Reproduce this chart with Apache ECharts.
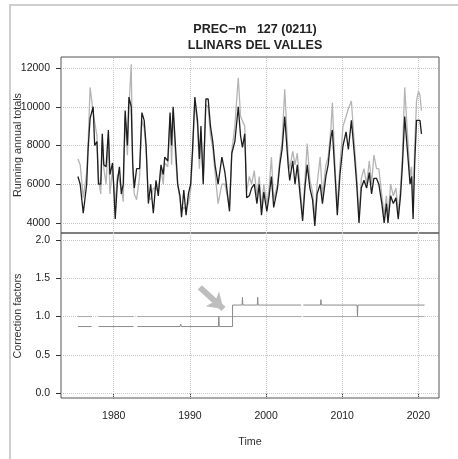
<!DOCTYPE html>
<html>
<head>
<meta charset="utf-8">
<script src="https://cdn.jsdelivr.net/npm/echarts@6/dist/echarts.min.js"></script>
<style>
  html, body { margin: 0; padding: 0; background: #fff; }
  #chart { width: 458px; height: 459px; }
</style>
</head>
<body>
<div id="chart"></div>
<script>
// running annual totals (approx. quarterly)
const years = [
  1975.3, 1975.6, 1976.0, 1976.45, 1976.65, 1976.9, 1977.3, 1977.5, 1977.8, 1978.0,
  1978.3, 1978.5, 1978.7, 1979.0, 1979.3, 1979.5, 1979.85, 1980.2, 1980.5, 1980.75,
  1981.0, 1981.25, 1981.5, 1981.8, 1982.0, 1982.3, 1982.5, 1982.7, 1983.0, 1983.4,
  1983.7, 1984.0, 1984.25, 1984.55, 1984.85, 1985.2, 1985.55, 1985.85, 1986.2, 1986.5,
  1986.7, 1987.1, 1987.4, 1987.6, 1987.8, 1988.1, 1988.4, 1988.7, 1988.9, 1989.2,
  1989.5, 1989.8, 1990.1, 1990.35, 1990.65, 1991.0, 1991.25, 1991.45, 1991.75, 1992.1,
  1992.4, 1992.7, 1993.0, 1993.3, 1993.7, 1994.2, 1994.6, 1995.2, 1995.5, 1995.9,
  1996.35, 1996.65, 1996.9, 1997.2, 1997.45, 1997.8, 1998.1, 1998.45, 1998.8, 1999.1,
  1999.4, 1999.7, 2000.1, 2000.4, 2000.7, 2001.0, 2001.5, 2001.8, 2002.1, 2002.45,
  2002.9, 2003.1, 2003.5, 2003.8, 2004.1, 2004.45, 2004.8, 2005.1, 2005.4, 2005.75,
  2006.1, 2006.4, 2006.7, 2007.1, 2007.4, 2007.85, 2008.15, 2008.5, 2008.7, 2009.05,
  2009.35, 2009.7, 2010.1, 2010.5, 2010.8, 2011.2, 2011.6, 2011.9, 2012.2, 2012.5,
  2012.85, 2013.2, 2013.55, 2013.85, 2014.15, 2014.5, 2014.8, 2015.2, 2015.5, 2015.8,
  2016.0, 2016.35, 2016.7, 2017.05, 2017.35, 2017.65, 2017.9, 2018.2, 2018.5, 2018.9,
  2019.1, 2019.3, 2019.5, 2019.75, 2020.0, 2020.2, 2020.4
];
const blackTotals = [
  6400, 6000, 4500, 6000, 7900, 9400, 10000, 8000, 8200, 6000,
  6000, 8600, 7000, 6900, 8800, 6500, 7100, 4200, 6200, 6900,
  5500, 6000, 9800, 8000, 10500, 10000, 7000, 5800, 6800, 6800,
  9700, 9300, 8000, 5000, 6000, 4500, 6200, 5400, 7000, 6500,
  7400, 7200, 9700, 8000, 10000, 8000, 6000, 5400, 4300, 5700,
  4400, 5500, 6000, 7800, 10500, 9300, 7300, 9000, 6000, 10400,
  10400, 9000, 8200, 7000, 6000, 7400, 6600, 4600, 7600, 8200,
  10000, 8500, 7900, 8600, 5300, 5400, 5800, 6000, 5000, 6000,
  4400, 5600, 4600, 5400, 6400, 4800, 5800, 7000, 7800, 9500,
  7000, 6200, 7200, 6000, 7000, 5500, 4100, 5800, 7000, 5800,
  5200, 3850, 5500, 6000, 5000, 6400, 7000, 8400, 8800, 6500,
  4400, 6500, 8000, 8700, 7800, 9300, 7500, 6000, 4000, 5800,
  6200, 5800, 6600, 5500, 6300, 6300, 6000, 5000, 4000, 5000,
  4000, 5400, 5000, 5300, 4200, 5400, 7000, 9500, 8000, 6000,
  6400, 4200, 7000, 9300, 9400, 9300, 8600
];
const grayTotals = [
  7300, 7000, 5300, 6600, 8200, 11000, 9700, 9700, 8500, 6300,
  5500, 8300, 6800, 6000, 8400, 5500, 6800, 5000, 6500, 6600,
  5800, 5100, 9500, 7500, 10000, 12200, 6500, 5500, 5200, 6400,
  9300, 8900, 7800, 5300, 5200, 5800, 5800, 5600, 6800, 6000,
  7100, 6900, 9500, 7000, 9800, 7500, 5900, 5200, 4600, 4800,
  4700, 5000, 5700, 7500, 10300, 9000, 6800, 8700, 6200, 10100,
  10000, 8500, 7900, 6600, 5000, 6000, 6000, 4800, 7700, 9000,
  11500, 9500, 9500, 9000, 5600, 6400, 6000, 6700, 5400, 6400,
  4800, 6000, 5000, 5800, 7400, 5200, 6000, 7300, 8200, 10900,
  7400, 6800, 7700, 7000, 7600, 5900, 4400, 6200, 8100, 6200,
  5600, 4300, 6000, 7400, 5400, 7000, 7400, 8800, 10200, 6900,
  4800, 7000, 9000, 9500, 9900, 10300, 8000, 6400, 4300, 6300,
  6800, 6000, 7200, 6000, 7500, 6800, 6800, 5400, 4400, 5400,
  4300, 6000, 5400, 5800, 4500, 5800, 7500, 11000, 9000, 6400,
  6900, 4500, 7800, 10300, 10800, 10600, 9800
];

// correction factors (null = missing data)
const cfTimes = [
  1975.3, 1977.1, 1977.2, 1978.0, 1982.6, 1982.7, 1983.1, 1988.7, 1988.8, 1988.9,
  1993.75, 1993.8, 1993.85, 1995.6, 1995.6, 1996.85, 1996.9, 1996.95, 1998.85, 1998.9,
  1998.95, 2004.6, 2004.7, 2004.9, 2007.15, 2007.2, 2007.25, 2011.95, 2012.0, 2012.05,
  2020.8
];
const cfValues = [
  0.87, 0.87, null, 0.87, 0.87, null, 0.87, 0.87, 0.9, 0.87,
  0.87, 1.0, 0.87, 0.87, 1.15, 1.15, 1.25, 1.15, 1.15, 1.25,
  1.15, 1.15, null, 1.15, 1.15, 1.22, 1.15, 1.15, 1.0, 1.15,
  1.15
];
const refTimes = [1975.3, 1977.1, 1977.2, 1978.0, 1982.6, 1982.7, 1983.1, 2004.6, 2004.7, 2004.9, 2020.8];
const refValues = [1.0, 1.0, null, 1.0, 1.0, null, 1.0, 1.0, null, 1.0, 1.0];

const timeTicks = [1980, 1990, 2000, 2010, 2020];
const totalTicks = [4000, 6000, 8000, 10000, 12000];
const factorTicks = [0, 0.5, 1, 1.5, 2];

const FONT = 'Liberation Sans';
const pair = (xs, ys) => xs.map((x, i) => [x, ys[i]]);

const gridLines = (yTicks) => ({
  silent: true,
  symbol: 'none',
  z: 1,
  label: { show: false },
  lineStyle: { type: 'dotted', color: '#c8c8c8', width: 1 },
  data: timeTicks.map(v => ({ xAxis: v })).concat(yTicks.map(v => ({ yAxis: v })))
});

const xAxisBase = {
  type: 'value', min: 1973.08, max: 2022.7,
  axisLine: { show: false }, splitLine: { show: false }
};
const tickStyle = { show: true, length: 5, lineStyle: { color: '#333', width: 1 } };

const chart = echarts.init(document.getElementById('chart'));
chart.setOption({
  animation: false,
  backgroundColor: '#fff',
  title: {
    text: 'PREC\u2212m   127 (0211)\nLLINARS DEL VALLES',
    left: 250, top: 17, textAlign: 'center',
    textStyle: { fontFamily: FONT, fontSize: 12.5, fontWeight: 'bold', color: '#222', lineHeight: 15.5 }
  },
  graphic: [
    { type: 'rect', shape: { x: 10, y: 5, width: 470, height: 470 }, style: { fill: 'none', stroke: '#cfcfcf', lineWidth: 2 } },
    { type: 'text', x: 18, y: 145, rotation: Math.PI / 2,
      style: { text: 'Running annual totals', fontFamily: FONT, fontSize: 10.75, fill: '#333', align: 'center', verticalAlign: 'middle' } },
    { type: 'text', x: 18, y: 316, rotation: Math.PI / 2,
      style: { text: 'Correction factors', fontFamily: FONT, fontSize: 10.75, fill: '#333', align: 'center', verticalAlign: 'middle' } },
    { type: 'text', x: 250, y: 442,
      style: { text: 'Time', fontFamily: FONT, fontSize: 10.75, fill: '#333', align: 'center', verticalAlign: 'middle' } }
  ],
  grid: [
    { left: 61, top: 57, width: 378, height: 176, show: true, borderColor: '#555', borderWidth: 1 },
    { left: 61, top: 233, width: 378, height: 165, show: true, borderColor: '#555', borderWidth: 1 }
  ],
  xAxis: [
    Object.assign({ gridIndex: 0, axisTick: { show: false }, axisLabel: { show: false } }, xAxisBase),
    Object.assign({
      gridIndex: 1,
      axisTick: Object.assign({ customValues: timeTicks }, tickStyle),
      axisLabel: { customValues: timeTicks, fontFamily: FONT, fontSize: 10.5, color: '#222', margin: 13,
                   formatter: v => String(v) }
    }, xAxisBase)
  ],
  yAxis: [
    {
      type: 'value', gridIndex: 0, min: 3480, max: 12570,
      axisLine: { show: false }, splitLine: { show: false },
      axisTick: Object.assign({ customValues: totalTicks }, tickStyle),
      axisLabel: { customValues: totalTicks, fontFamily: FONT, fontSize: 10.5, color: '#222', margin: 11,
                   formatter: v => String(v) }
    },
    {
      type: 'value', gridIndex: 1, min: -0.06, max: 2.088,
      axisLine: { show: false }, splitLine: { show: false },
      axisTick: Object.assign({ customValues: factorTicks }, tickStyle),
      axisLabel: { customValues: factorTicks, fontFamily: FONT, fontSize: 10.5, color: '#222', margin: 11,
                   formatter: v => v.toFixed(1) }
    }
  ],
  series: [
    {
      type: 'line', xAxisIndex: 0, yAxisIndex: 0, z: 2,
      data: pair(years, grayTotals), showSymbol: false,
      lineStyle: { color: '#b4b4b4', width: 1.3 },
      markLine: gridLines(totalTicks)
    },
    {
      type: 'line', xAxisIndex: 0, yAxisIndex: 0, z: 3,
      data: pair(years, blackTotals), showSymbol: false,
      lineStyle: { color: '#1e1e1e', width: 1.3 }
    },
    {
      type: 'line', xAxisIndex: 1, yAxisIndex: 1, z: 2,
      data: pair(refTimes, refValues), showSymbol: false, connectNulls: false,
      lineStyle: { color: '#a8a8a8', width: 1 },
      markLine: gridLines(factorTicks)
    },
    {
      type: 'line', xAxisIndex: 1, yAxisIndex: 1, z: 3,
      data: pair(cfTimes, cfValues), showSymbol: false, connectNulls: false,
      lineStyle: { color: '#8a8a8a', width: 1 },
      markLine: {
        silent: true, z: 4,
        symbol: ['none', 'arrow'], symbolSize: 15,
        label: { show: false },
        lineStyle: { type: 'solid', color: '#bdbdbd', width: 6 },
        data: [[{ coord: [1991.3, 1.38] }, { coord: [1994.4, 1.1] }]]
      }
    }
  ]
});
</script>
</body>
</html>
